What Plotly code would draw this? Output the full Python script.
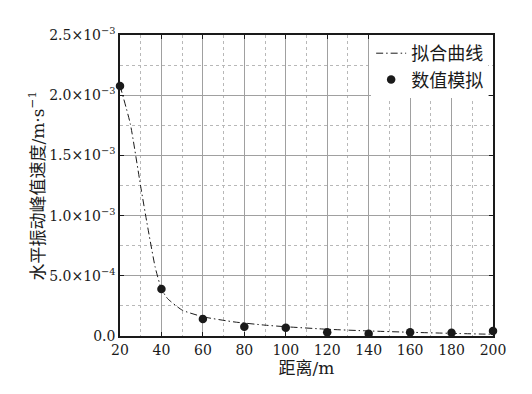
import plotly.graph_objects as go

# Data
sim_x = [20, 40, 60, 80, 100, 120, 140, 160, 180, 200]
sim_y = [2.076e-3, 0.39e-3, 0.141e-3, 0.077e-3, 0.069e-3, 0.031e-3, 0.019e-3, 0.031e-3, 0.027e-3, 0.042e-3]

fit_x = [20, 25, 30, 33, 37, 40, 43, 50, 60, 75, 90, 100, 120, 140, 160, 180, 200]
fit_y = [2.08e-3, 1.76e-3, 1.24e-3, 0.94e-3, 0.57e-3, 0.39e-3, 0.31e-3, 0.215e-3, 0.16e-3, 0.117e-3,
         0.09e-3, 0.077e-3, 0.056e-3, 0.042e-3, 0.031e-3, 0.022e-3, 0.014e-3]

x_ticks = [20, 40, 60, 80, 100, 120, 140, 160, 180, 200]
y_ticks = [0, 0.5e-3, 1.0e-3, 1.5e-3, 2.0e-3, 2.5e-3]
y_tick_text = ["0.0", "5.0×10<sup>−4</sup>", "1.0×10<sup>−3</sup>", "1.5×10<sup>−3</sup>",
               "2.0×10<sup>−3</sup>", "2.5×10<sup>−3</sup>"]

FONT = "DejaVu Serif, Noto Sans CJK SC"
INK = "#1a1a1a"

fig = go.Figure()
fig.add_trace(go.Scatter(
    x=fit_x, y=fit_y, mode="lines", name="拟合曲线",
    line=dict(color=INK, width=1, dash="7px,3px,1.5px,3px", shape="spline", smoothing=0.5),
))
fig.add_trace(go.Scatter(
    x=sim_x, y=sim_y, mode="markers", name="数值模拟",
    marker=dict(color=INK, size=8.5), cliponaxis=False,
))

axis_common = dict(
    showline=True, linecolor=INK, linewidth=1.5, mirror="allticks",
    ticks="inside", ticklen=4, tickwidth=1, tickcolor=INK,
    showgrid=True, gridcolor="#a0a0a0", gridwidth=1,
    zeroline=False,
    tickfont=dict(family=FONT, size=14, color=INK),
)

fig.update_xaxes(
    **axis_common,
    range=[20, 200], tickvals=x_ticks,
    minor=dict(dtick=10, tick0=0, showgrid=True, gridcolor="#b8b8b8", griddash="dot", gridwidth=1, ticks=""),
    title=dict(text="距离/m", font=dict(family=FONT, size=17, color=INK), standoff=4),
)
fig.update_yaxes(
    **axis_common,
    range=[0, 2.5e-3], tickvals=y_ticks, ticktext=y_tick_text,
    minor=dict(dtick=0.25e-3, tick0=0, showgrid=True, gridcolor="#b8b8b8", griddash="dot", gridwidth=1, ticks=""),
)

fig.add_annotation(
    text="水平振动峰值速度/m·s<sup>−1</sup>", textangle=-90,
    xref="paper", yref="paper", x=0, y=0.5, xanchor="center", yanchor="middle",
    xshift=-84, showarrow=False,
    font=dict(family=FONT, size=17, color=INK),
)

fig.update_layout(
    width=524, height=386,
    margin=dict(l=112, r=39, t=27, b=58),
    paper_bgcolor="white", plot_bgcolor="white",
    showlegend=True,
    legend=dict(
        x=0.987, y=1.0, xanchor="right", yanchor="top", xref="paper", yref="paper",
        bgcolor="white", borderwidth=0,
        font=dict(family=FONT, size=18, color=INK),
        tracegroupgap=0, itemwidth=30,
    ),
)

fig.write_html("out.html")
